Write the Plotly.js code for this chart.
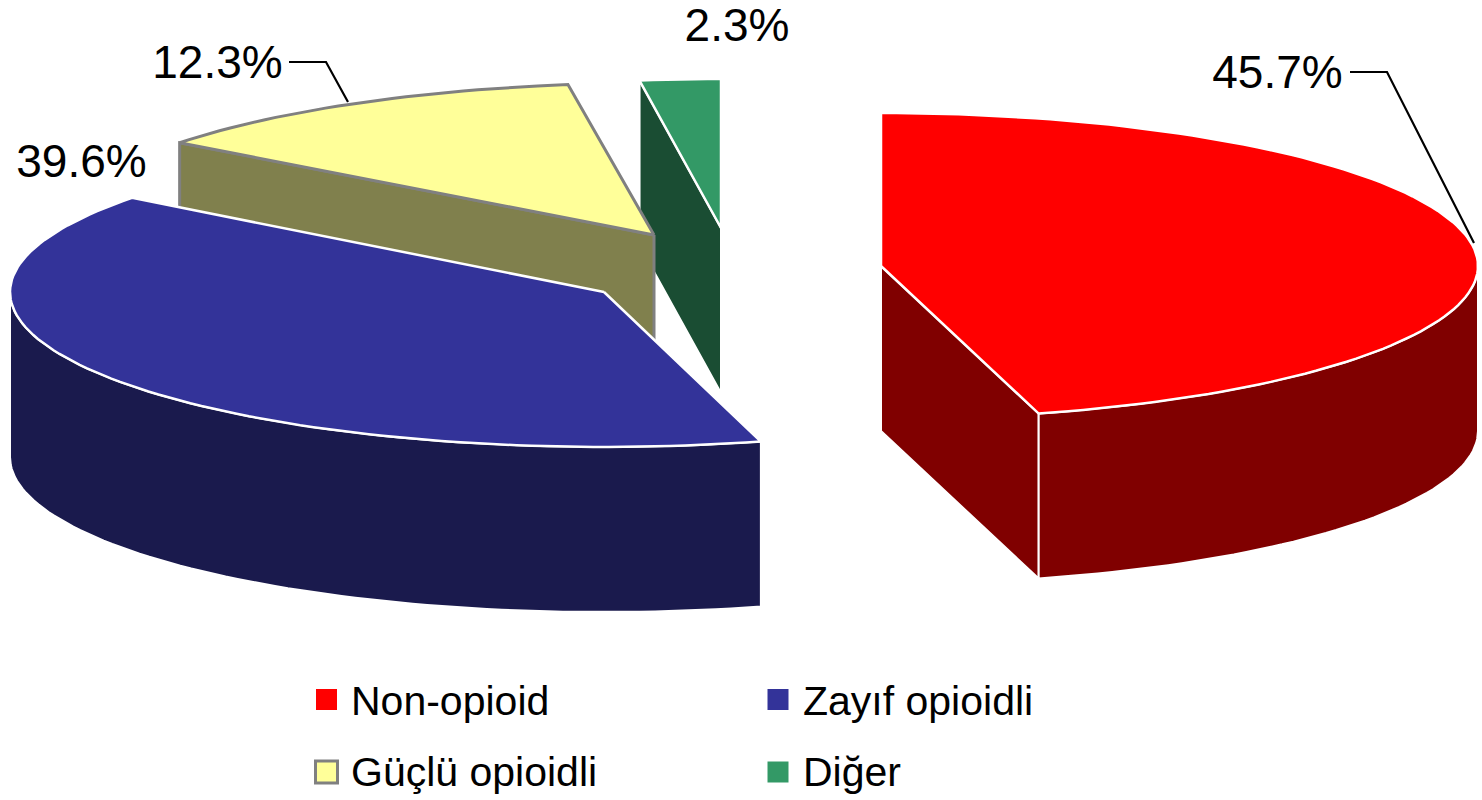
<!DOCTYPE html>
<html><head><meta charset="utf-8">
<script src="https://cdn.plot.ly/plotly-3.0.1.min.js"></script>
<style>html,body{margin:0;padding:0;background:#fff}#c{width:1482px;height:800px}</style>
</head><body><div id="c"></div>
<script>
// Data
const categories = ["Non-opioid", "Zayıf opioidli", "Güçlü opioidli", "Diğer"];
const values = [45.7, 39.6, 12.3, 2.3];
const valueLabels = ["45.7%", "39.6%", "12.3%", "2.3%"];

// Styles
const topColors = ["#FF0000", "#333399", "#FFFF99", "#339966"];
const wallColors = ["#800000", "#1A1A4D", "#80804D", "#1A4D33"];
const edgeColors = ["#FFFFFF", "#FFFFFF", "#808080", "#FFFFFF"];

// Projection of each exploded slice (apex on the page, ellipse radii, extrusion)
const apexX = [881, 604, 654, 721];
const apexY = [266, 292, 235, 228];
const radiusX = [597, 594, 597, 565];
const radiusY = [153, 155, 152, 149];
const depth = 165;
const drawOrder = [3, 2, 1, 0];

// Label placement
const labelX = [1277.5, 81.5, 217.5, 737];
const labelY = [76.5, 165.5, 66.5, 29.5];
const leaderX = [[1350, 1387, 1474], null, [289, 326, 348], null];
const leaderY = [[72, 72, 243], null, [62, 62, 102], null];
const legendMarkX = [326.5, 778, 326.5, 778];
const legendMarkY = [699.5, 699.5, 772, 772];
const legendTextX = [351, 803, 351, 803];
const legendTextY = [705, 705, 776, 776];

const total = values.reduce((a, b) => a + b, 0);
const bounds = [0];
values.forEach(v => bounds.push(bounds[bounds.length - 1] + v / total * 360));
const rad = d => d * Math.PI / 180;
const px = (i, t) => apexX[i] + radiusX[i] * Math.sin(rad(t));
const py = (i, t) => apexY[i] - radiusY[i] * Math.cos(rad(t));
function arc(a, b) {
  const n = Math.max(1, Math.ceil((b - a) / 1.5)), out = [];
  for (let k = 0; k <= n; k++) out.push(a + (b - a) * k / n);
  return out;
}
function poly(xs, ys, fill, line, width, name) {
  return {type: "scatter", mode: "lines", x: xs, y: ys, fill: "toself", fillcolor: fill,
    line: {color: line, width: width}, hoverinfo: "skip", showlegend: false, name: name};
}
const traces = [];
drawOrder.forEach(i => {
  const a = bounds[i], b = bounds[i + 1];
  const wallW = i === 2 ? 3 : 2;
  // Only the cut faces that look towards the viewer
  const faces = [];
  if (Math.sin(rad(a)) < -1e-6) faces.push(a);
  if (Math.sin(rad(b)) > 1e-6) faces.push(b);
  faces.forEach(t => {
    const x1 = px(i, t), y1 = py(i, t);
    traces.push(poly([apexX[i], x1, x1, apexX[i], apexX[i]],
      [apexY[i], y1, y1 + depth, apexY[i] + depth, apexY[i]],
      wallColors[i], edgeColors[i], wallW, categories[i] + " side"));
  });
  const lo = Math.max(a, 90), hi = Math.min(b, 270);
  if (hi > lo) {
    const ts = arc(lo, hi);
    const xs = ts.map(t => px(i, t)), ys = ts.map(t => py(i, t));
    traces.push(poly(xs.concat(xs.slice().reverse(), xs[0]),
      ys.concat(ys.slice().reverse().map(y => y + depth), ys[0]),
      wallColors[i], edgeColors[i], wallW, categories[i] + " rim"));
  }
  const ts = arc(a, b);
  traces.push(poly([apexX[i]].concat(ts.map(t => px(i, t)), apexX[i]),
    [apexY[i]].concat(ts.map(t => py(i, t)), apexY[i]),
    topColors[i], edgeColors[i], i === 2 ? 3 : 2.5, categories[i]));
});
categories.forEach((c, i) => {
  if (leaderX[i]) traces.push({type: "scatter", mode: "lines", x: leaderX[i], y: leaderY[i],
    line: {color: "#000", width: 2.2}, hoverinfo: "skip", showlegend: false});
});
// Value labels
traces.push({type: "scatter", mode: "text", x: labelX, y: labelY, text: valueLabels,
  textposition: "middle center", textfont: {family: "Liberation Sans", size: 46, color: "#000"},
  cliponaxis: false, hoverinfo: "skip", showlegend: false});
// Legend
traces.push({type: "scatter", mode: "markers", x: legendMarkX, y: legendMarkY,
  marker: {symbol: "square", size: [21, 21, 22, 21], opacity: 1, color: topColors,
    line: {color: edgeColors.map(e => e === "#808080" ? e : "rgba(0,0,0,0)"), width: 3}},
  hoverinfo: "skip", showlegend: false});
traces.push({type: "scatter", mode: "text", x: legendTextX, y: legendTextY, text: categories,
  textposition: "middle right", textfont: {family: "Liberation Sans", size: 41, color: "#000"},
  cliponaxis: false, hoverinfo: "skip", showlegend: false});

const layout = {
  width: 1482, height: 800, margin: {l: 0, r: 0, t: 0, b: 0},
  paper_bgcolor: "#fff", plot_bgcolor: "#fff", showlegend: false,
  xaxis: {range: [0, 1482], visible: false, fixedrange: true},
  yaxis: {range: [800, 0], visible: false, fixedrange: true}
};
Plotly.newPlot("c", traces, layout, {displayModeBar: false, staticPlot: true});
</script></body></html>
